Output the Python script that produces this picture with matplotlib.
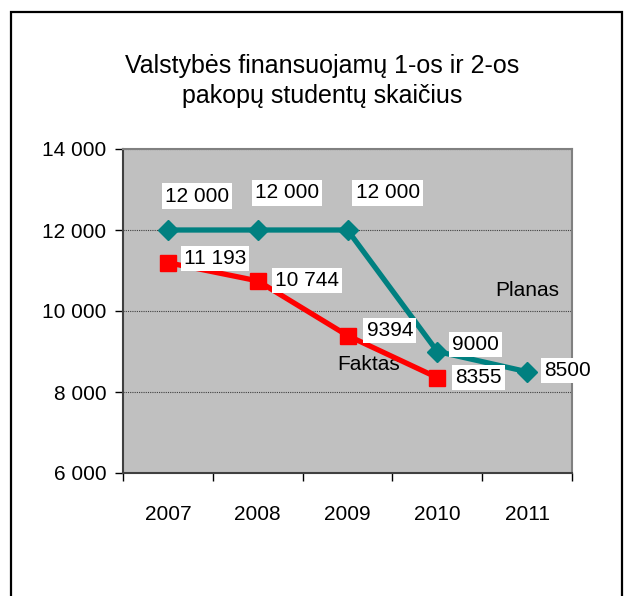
import matplotlib
matplotlib.use("Agg")
import matplotlib.pyplot as plt
from matplotlib.patches import Rectangle

plt.rcParams['font.family'] = ['Liberation Sans', 'DejaVu Sans']

years = ['2007', '2008', '2009', '2010', '2011']
planas = [12000, 12000, 12000, 9000, 8500]
faktas = [11193, 10744, 9394, 8355]
planas_labels = ['12 000', '12 000', '12 000', '9000', '8500']
faktas_labels = ['11 193', '10 744', '9394', '8355']
yticks = [6000, 8000, 10000, 12000, 14000]
ytick_labels = ['6 000', '8 000', '10 000', '12 000', '14 000']

fig = plt.figure(figsize=(6.29, 5.96), dpi=100)
ax = fig.add_axes([123 / 629, 1 - 473 / 596, 449 / 629, 324 / 596])
ax.set_facecolor('#C0C0C0')

x_p = list(range(len(planas)))
x_f = list(range(len(faktas)))
ax.plot(x_p, planas, color='#008080', lw=3.8, marker='D', ms=10, zorder=3)
ax.plot(x_f, faktas, color='#FF0000', lw=3.8, marker='s', ms=11.5, zorder=3)

box = dict(boxstyle='square,pad=0.15', fc='white', ec='none')
fs = 15
# label offsets in pixels (dx, dy)
p_off = [(-3, 34), (-3, 37), (8, 37), (15, 7), (17, 1)]
f_off = [(16, 4), (17, 0), (19, 5), (18, 0)]
for i, (v, t) in enumerate(zip(planas, planas_labels)):
    ax.annotate(t, (x_p[i], v), xytext=p_off[i], textcoords='offset pixels',
                ha='left', va='center', fontsize=fs, bbox=box, zorder=4)
for i, (v, t) in enumerate(zip(faktas, faktas_labels)):
    ax.annotate(t, (x_f[i], v), xytext=f_off[i], textcoords='offset pixels',
                ha='left', va='center', fontsize=fs, bbox=box, zorder=4)

ax.text(4, 10494, 'Planas', ha='center', va='center', fontsize=fs)
ax.text(2.23, 8690, 'Faktas', ha='center', va='center', fontsize=fs, zorder=2)

ax.set_xlim(-0.5, 4.5)
ax.set_ylim(6000, 14000)
ax.set_yticks(yticks)
ax.set_yticklabels(ytick_labels, fontsize=fs)
ax.set_xticks([i - 0.5 for i in range(6)], minor=False)
ax.set_xticklabels([])
ax.set_xticks(range(5), minor=True)
ax.set_xticklabels(years, minor=True, fontsize=fs)
ax.tick_params(axis='x', which='minor', length=0, pad=23)
ax.tick_params(axis='x', which='major', length=6, width=1, color='black')
ax.tick_params(axis='y', length=6, width=1, color='black', pad=6)
ax.grid(axis='y', color='#404040', ls=(0, (1, 1)), lw=0.8)
ax.set_axisbelow(True)
for s in ['top', 'right']:
    ax.spines[s].set_color('#808080')
    ax.spines[s].set_linewidth(1.5)
ax.spines['left'].set_color('#404040')
ax.spines['bottom'].set_color('#404040')
ax.spines['left'].set_linewidth(1.5)
ax.spines['bottom'].set_linewidth(1.5)

fig.text(322 / 629, 1 - 81 / 596, 'Valstybės finansuojamų 1-os ir 2-os\npakopų studentų skaičius',
         ha='center', va='center', fontsize=18, linespacing=1.3)

fig.patches.append(Rectangle((11 / 629, -0.1), 611 / 629, 1.1 - 12 / 596,
                             transform=fig.transFigure, fill=False, ec='black', lw=1.6))

fig.savefig('out.png', dpi=100)
